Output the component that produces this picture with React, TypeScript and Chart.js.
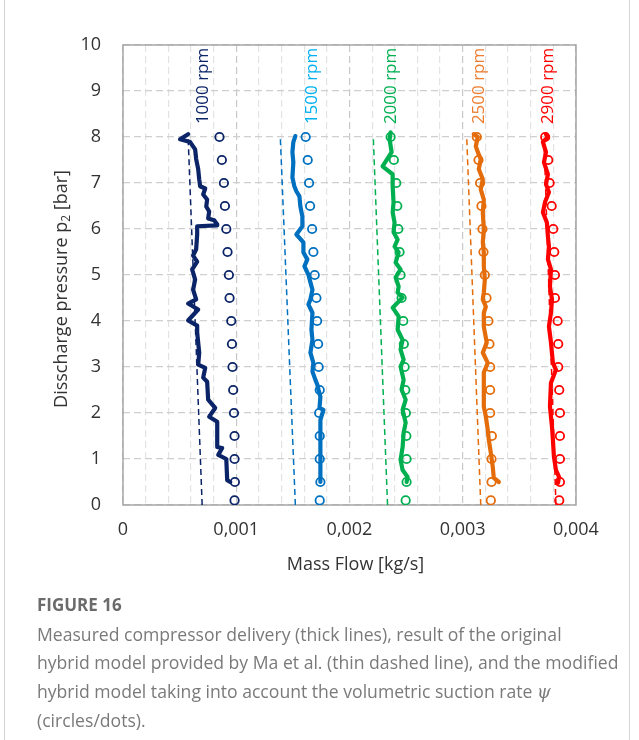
import React, { useEffect, useRef } from 'react';
import { Chart, registerables } from 'chart.js';

Chart.register(...registerables);

// Pressure levels of the modified hybrid model (circles), bar
const MODEL_P = [0.1, 0.5, 1, 1.5, 2, 2.5, 3, 3.5, 4, 4.5, 5, 5.5, 6, 6.5, 7, 7.5, 8];

// Modified hybrid model mass flow (kg/s) at MODEL_P
const MOD_1000 = [0.000985, 0.000988, 0.000985, 0.000985, 0.00098, 0.000973, 0.000967, 0.000962, 0.000956, 0.000941, 0.000935, 0.000923, 0.000912, 0.0009, 0.000891, 0.000873, 0.000852];
const MOD_1500 = [0.001737, 0.001743, 0.001737, 0.001737, 0.001732, 0.001737, 0.001728, 0.001723, 0.001714, 0.001708, 0.001693, 0.001681, 0.00167, 0.001652, 0.001643, 0.001631, 0.001613];
const MOD_2000 = [0.002496, 0.002504, 0.002504, 0.002502, 0.002498, 0.002493, 0.002487, 0.00248, 0.002475, 0.00246, 0.002451, 0.002442, 0.002431, 0.002422, 0.002413, 0.002392, 0.002363];
const MOD_2500 = [0.003248, 0.003254, 0.003254, 0.003257, 0.003242, 0.003242, 0.003242, 0.003236, 0.003227, 0.00321, 0.003195, 0.003183, 0.003174, 0.003165, 0.003153, 0.003139, 0.003124];
const MOD_2900 = [0.003852, 0.003858, 0.003858, 0.003858, 0.003858, 0.003852, 0.003843, 0.003843, 0.003838, 0.003814, 0.003814, 0.003808, 0.003799, 0.003785, 0.003767, 0.003755, 0.003728];

// Original hybrid model (thin dashed lines): end points at p = 0 and p = 8 bar
const ORIG_P = [0, 8];
const ORIG_1000 = [0.000699, 0.000575];
const ORIG_1500 = [0.001522, 0.001389];
const ORIG_2000 = [0.002336, 0.00221];
const ORIG_2500 = [0.003159, 0.003035];
const ORIG_2900 = [0.003823, 0.003717];

// Measured delivery (thick lines)
const MEAS_1000_X = [0.000575, 0.000504, 0.000593, 0.000637, 0.000646, 0.000664, 0.000673, 0.000681, 0.000726, 0.000708, 0.000743, 0.000735, 0.000761, 0.000752, 0.000805, 0.000832, 0.000832, 0.000655, 0.000655, 0.000646, 0.000619, 0.000655, 0.000611, 0.000637, 0.000619, 0.000646, 0.000575, 0.000664, 0.000575, 0.000655, 0.000655, 0.000673, 0.000664, 0.000726, 0.000708, 0.000743, 0.000752, 0.000814, 0.000761, 0.000832, 0.000832, 0.000876, 0.000841, 0.000912, 0.00092, 0.000947];
const MEAS_1000_P = [8.06, 7.95, 7.89, 7.73, 7.52, 7.3, 7.08, 6.93, 6.88, 6.75, 6.64, 6.49, 6.38, 6.23, 6.19, 6.1, 6.08, 6.06, 5.88, 5.56, 5.42, 5.29, 5.12, 4.9, 4.68, 4.47, 4.38, 4.25, 4.01, 3.9, 3.75, 3.31, 3.05, 2.98, 2.77, 2.68, 2.29, 2.11, 1.92, 1.81, 1.26, 1.24, 1.09, 1.0, 0.54, 0.5];

const MEAS_1500_X = [0.001522, 0.001504, 0.001496, 0.001504, 0.001496, 0.001513, 0.001531, 0.001558, 0.001566, 0.001584, 0.001584, 0.001531, 0.001593, 0.001593, 0.001628, 0.001602, 0.001637, 0.001655, 0.001673, 0.001655, 0.001637, 0.001673, 0.001664, 0.001673, 0.001655, 0.001681, 0.001673, 0.001699, 0.001717, 0.001726, 0.001743, 0.001735, 0.00177, 0.001743, 0.001743, 0.001743, 0.001743];
const MEAS_1500_P = [8.02, 7.89, 7.67, 7.45, 7.12, 6.93, 6.82, 6.71, 6.49, 6.27, 6.06, 5.88, 5.71, 5.49, 5.34, 5.19, 5.01, 4.84, 4.68, 4.47, 4.36, 4.18, 3.81, 3.59, 3.31, 3.09, 2.9, 2.72, 2.61, 2.51, 2.35, 2.11, 2.07, 1.85, 1.42, 0.98, 0.5];

const MEAS_2000_X = [0.002363, 0.002354, 0.002372, 0.002292, 0.002381, 0.002381, 0.002389, 0.002381, 0.002398, 0.002389, 0.002425, 0.002398, 0.002434, 0.002407, 0.002451, 0.002407, 0.002434, 0.002425, 0.002469, 0.002381, 0.002434, 0.002425, 0.002469, 0.002451, 0.002478, 0.002451, 0.002478, 0.00246, 0.002496, 0.002469, 0.002496, 0.002478, 0.002469, 0.002451, 0.002469, 0.002513, 0.002504];
const MEAS_2000_P = [8.1, 7.95, 7.67, 7.36, 7.19, 6.93, 6.58, 6.36, 6.14, 5.93, 5.77, 5.62, 5.49, 5.27, 5.12, 4.95, 4.75, 4.62, 4.51, 4.29, 4.1, 3.81, 3.59, 3.38, 3.16, 3.01, 2.72, 2.51, 2.29, 2.07, 1.79, 1.57, 1.26, 0.98, 0.76, 0.61, 0.5];

const MEAS_2500_X = [0.003097, 0.003133, 0.003115, 0.003133, 0.003159, 0.003142, 0.003177, 0.003159, 0.003186, 0.003177, 0.003186, 0.003177, 0.003186, 0.003186, 0.003195, 0.003186, 0.003177, 0.003204, 0.003186, 0.003186, 0.003212, 0.003177, 0.003221, 0.003186, 0.003186, 0.003186, 0.003204, 0.003221, 0.00323, 0.003248, 0.003265, 0.003274, 0.003319];
const MEAS_2500_P = [8.06, 8.0, 7.8, 7.67, 7.52, 7.3, 7.08, 6.86, 6.64, 6.36, 5.99, 5.71, 5.49, 5.19, 4.9, 4.62, 4.47, 4.31, 4.18, 3.88, 3.53, 3.31, 3.09, 2.88, 2.51, 2.14, 1.92, 1.63, 1.42, 1.13, 0.83, 0.59, 0.5];

const MEAS_2900_X = [0.003735, 0.003752, 0.003708, 0.003735, 0.003717, 0.003752, 0.003735, 0.003761, 0.003726, 0.003708, 0.003743, 0.003752, 0.003761, 0.003752, 0.003779, 0.00377, 0.003788, 0.003779, 0.003761, 0.003779, 0.003796, 0.003823, 0.003779, 0.00377, 0.003788, 0.003796, 0.003805, 0.003823, 0.00385, 0.003841];
const MEAS_2900_P = [8.06, 8.0, 7.89, 7.67, 7.45, 7.19, 6.97, 6.8, 6.58, 6.36, 6.14, 5.84, 5.62, 5.34, 5.12, 4.75, 4.47, 4.18, 3.88, 3.53, 3.09, 2.94, 2.66, 2.14, 1.7, 1.42, 1.05, 0.76, 0.61, 0.48];

// Speed labels, written above each group of curves
const RPM_LABELS = ['1000 rpm', '1500 rpm', '2000 rpm', '2500 rpm', '2900 rpm'];
const RPM_LABEL_X = [0.000708, 0.001673, 0.002372, 0.003142, 0.003752];
const RPM_LABEL_P = 8.28;

const SERIES_COLORS = ['#0b2468', '#0070c0', '#00b050', '#e46c0a', '#ff0000'];
const LABEL_COLORS = ['#0b2468', '#00b0f0', '#00b050', '#ed7d31', '#ff0000'];

const X_TICK_STEP = 0.0002;
const FONT = '"Open Sans", "Noto Sans", sans-serif';

const pts = (xs: number[], ys: number[]) => xs.map((x, i) => ({ x, y: ys[i] }));

const overlayPlugin = {
  id: 'figureOverlay',
  beforeDatasetsDraw(chart: any) {
    const { ctx, chartArea: a } = chart;
    ctx.save();
    ctx.strokeStyle = '#a6a6a6';
    ctx.lineWidth = 1.5;
    ctx.strokeRect(a.left, a.top, a.right - a.left, a.bottom - a.top);
    ctx.restore();
  },
  afterDraw(chart: any) {
    const { ctx, chartArea: a } = chart;
    const xs = chart.scales.x;
    const ys = chart.scales.y;
    ctx.save();

    // speed labels, rotated
    ctx.font = `17px ${FONT}`;
    ctx.textAlign = 'left';
    ctx.textBaseline = 'middle';
    RPM_LABELS.forEach((t, i) => {
      ctx.save();
      ctx.translate(xs.getPixelForValue(RPM_LABEL_X[i]), ys.getPixelForValue(RPM_LABEL_P));
      ctx.rotate(-Math.PI / 2);
      ctx.fillStyle = LABEL_COLORS[i];
      ctx.fillText(t, 0, 0);
      ctx.restore();
    });

    // x axis title
    ctx.fillStyle = '#333333';
    ctx.font = `18px ${FONT}`;
    ctx.textAlign = 'center';
    ctx.textBaseline = 'middle';
    ctx.fillText('Mass Flow [kg/s]', (a.left + a.right) / 2 + 6, a.bottom + 60);

    // y axis title with subscript
    const main = `18px ${FONT}`;
    const sub = `12px ${FONT}`;
    const p1 = 'Disscharge pressure p';
    const p2 = '2';
    const p3 = ' [bar]';
    ctx.font = main;
    const w1 = ctx.measureText(p1).width;
    const w3 = ctx.measureText(p3).width;
    ctx.font = sub;
    const w2 = ctx.measureText(p2).width;
    const total = w1 + w2 + w3;
    ctx.translate(62, (a.top + a.bottom) / 2 + 14);
    ctx.rotate(-Math.PI / 2);
    ctx.textAlign = 'left';
    ctx.textBaseline = 'middle';
    let x0 = -total / 2;
    ctx.font = main;
    ctx.fillText(p1, x0, 0);
    x0 += w1;
    ctx.font = sub;
    ctx.fillText(p2, x0, 5);
    x0 += w2;
    ctx.font = main;
    ctx.fillText(p3, x0, 0);
    ctx.restore();
  },
};

function FigureChart() {
  const ref = useRef<HTMLCanvasElement>(null);

  useEffect(() => {
    if (!ref.current) return;
    const mods = [MOD_1000, MOD_1500, MOD_2000, MOD_2500, MOD_2900];
    const origs = [ORIG_1000, ORIG_1500, ORIG_2000, ORIG_2500, ORIG_2900];
    const meas = [
      [MEAS_1000_X, MEAS_1000_P],
      [MEAS_1500_X, MEAS_1500_P],
      [MEAS_2000_X, MEAS_2000_P],
      [MEAS_2500_X, MEAS_2500_P],
      [MEAS_2900_X, MEAS_2900_P],
    ];
    const datasets: any[] = [];
    origs.forEach((o, i) => {
      datasets.push({
        label: `orig ${RPM_LABELS[i]}`,
        data: pts(o, ORIG_P),
        showLine: true,
        borderColor: SERIES_COLORS[i],
        borderWidth: 1.5,
        borderDash: [6, 4],
        pointRadius: 0,
        tension: 0,
      });
    });
    meas.forEach((m, i) => {
      datasets.push({
        label: `meas ${RPM_LABELS[i]}`,
        data: pts(m[0], m[1]),
        showLine: true,
        borderColor: SERIES_COLORS[i],
        borderWidth: 4.2,
        borderJoinStyle: 'round',
        borderCapStyle: 'round',
        pointRadius: 0,
        tension: 0,
      });
    });
    mods.forEach((m, i) => {
      datasets.push({
        label: `mod ${RPM_LABELS[i]}`,
        data: pts(m, MODEL_P),
        showLine: false,
        borderColor: SERIES_COLORS[i],
        backgroundColor: 'rgba(255,255,255,0)',
        pointRadius: 4.2,
        pointBorderWidth: 1.8,
        pointStyle: 'circle',
      });
    });

    const chart = new Chart(ref.current, {
      type: 'scatter',
      data: { datasets },
      options: {
        responsive: false,
        animation: false,
        devicePixelRatio: 1,
        layout: { padding: { left: 0, right: 63, top: 45, bottom: 0 } },
        plugins: {
          legend: { display: false },
          tooltip: { enabled: false },
        },
        scales: {
          x: {
            type: 'linear',
            min: 0,
            max: 0.004,
            afterFit: (s: any) => {
              s.height = 85;
            },
            ticks: {
              stepSize: X_TICK_STEP,
              autoSkip: false,
              maxRotation: 0,
              padding: 14,
              color: '#333333',
              font: { family: FONT, size: 18 },
              callback: (v: any) => {
                const n = Math.round(Number(v) * 10000);
                if (n % 10 !== 0) return '';
                return n === 0 ? '0' : (n / 10000).toFixed(3).replace('.', ',');
              },
            },
            grid: {
              drawTicks: false,
              lineWidth: 1.2,
              color: (c: any) => {
                const n = Math.round(Number(c.tick?.value ?? 0) * 10000);
                return n % 10 === 0 ? '#c8c8c8' : '#e3e3e3';
              },
            },
            border: { display: false, dash: [7, 4] },
          },
          y: {
            type: 'linear',
            min: 0,
            max: 10,
            afterFit: (s: any) => {
              s.width = 123;
            },
            ticks: {
              stepSize: 1,
              padding: 22,
              color: '#333333',
              font: { family: FONT, size: 18 },
            },
            grid: {
              drawTicks: false,
              lineWidth: 1.2,
              color: '#cfcfcf',
            },
            border: { display: false, dash: [7, 4] },
          },
        },
      },
      plugins: [overlayPlugin],
    });
    return () => chart.destroy();
  }, []);

  return <canvas ref={ref} width={639} height={590} style={{ display: 'block', width: 639, height: 590 }} />;
}

export default function App() {
  return (
    <div style={{ position: 'absolute', left: 0, top: 0, width: 639, height: 740, background: '#ffffff', overflow: 'hidden' }}>
      <div
        style={{
          position: 'absolute',
          left: 4,
          top: -2,
          width: 624,
          height: 744,
          borderLeft: '1px solid #d4d4d4',
          borderRight: '1px solid #d4d4d4',
        }}
      />
      <FigureChart />
      <div
        style={{
          position: 'absolute',
          left: 37,
          top: 591,
          width: 595,
          fontFamily: FONT,
          fontSize: 17.6,
          lineHeight: '28.6px',
          color: '#7a7a7a',
        }}
      >
        <div style={{ fontWeight: 700, color: '#6b6b6b', fontSize: 17 }}>FIGURE 16</div>
        <div style={{ whiteSpace: 'nowrap' }}>
          Measured compressor delivery (thick lines), result of the original
          <br />
          hybrid model provided by Ma et al. (thin dashed line), and the modified
          <br />
          hybrid model taking into account the volumetric suction rate <i style={{ fontFamily: '"DejaVu Serif", serif' }}>ψ</i>
          <br />
          (circles/dots).
        </div>
      </div>
    </div>
  );
}
